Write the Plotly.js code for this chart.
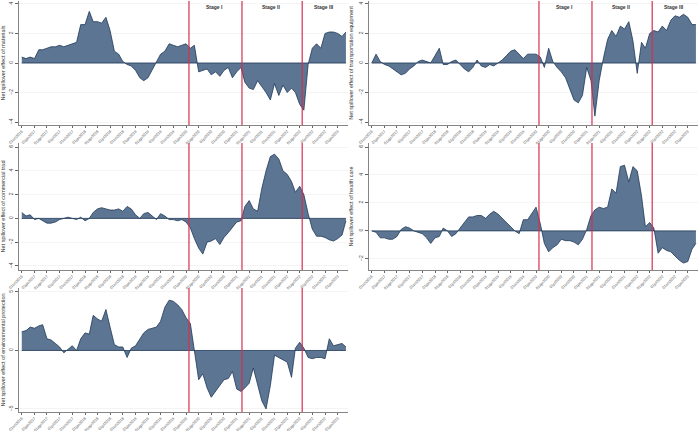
<!DOCTYPE html>
<html><head><meta charset="utf-8">
<script src="https://cdn.plot.ly/plotly-3.0.1.min.js"></script>
<style>html,body{margin:0;padding:0;background:#fff}#chart{width:700px;height:431px}</style>
</head><body><div id="chart"></div>
<script>
// Monthly observations, Oct 2016 .. Mar 2023
const startYear = 2016, startMonth = 9, nObs = 78;
const materials = [0.4,0.3,0.4,0.3,0.9,0.9,1.0,1.1,1.1,1.2,1.1,1.2,1.3,1.4,2.6,2.6,3.5,2.8,2.8,2.7,3.1,2.2,0.8,0.6,0.1,-0.1,-0.2,-0.5,-1.0,-1.2,-1.0,-0.5,0.1,0.6,0.8,1.3,1.2,1.1,1.2,1.3,1.0,1.2,-0.6,-0.5,-0.4,-0.8,-0.6,-0.9,-0.5,-0.3,-1.0,-0.6,-0.3,-1.3,-1.7,-1.8,-1.2,-1.6,-2.0,-2.5,-1.4,-2.2,-1.5,-2.0,-1.7,-2.0,-2.8,-3.2,-0.1,1.0,1.3,1.0,2.0,2.1,2.1,2.0,1.8,2.1];
const transport = [0.0,0.6,0.1,-0.1,-0.2,-0.4,-0.6,-0.8,-0.7,-0.4,-0.2,0.1,0.2,0.1,0.0,0.5,1.0,-0.1,-0.1,0.1,0.2,-0.1,-0.4,-0.6,-0.3,0.2,-0.2,-0.3,-0.1,-0.2,0.0,0.2,0.5,0.8,0.9,0.6,0.3,0.6,0.6,0.6,0.4,-0.3,1.0,0.1,-0.3,-0.6,-1.0,-1.7,-2.5,-2.7,-2.2,-0.3,-1.2,-3.6,-1.2,0.3,1.6,2.2,1.8,2.5,2.3,2.8,1.5,-0.7,1.4,1.0,2.0,2.2,2.1,2.5,2.2,2.9,3.2,3.1,3.3,3.1,2.6,2.6];
const commercial = [0.5,0.2,0.3,-0.1,0.0,-0.2,-0.4,-0.4,-0.3,-0.1,0.0,0.1,0.0,-0.1,0.1,-0.2,0.0,0.5,0.8,0.9,0.8,0.7,0.7,0.8,0.6,1.0,0.8,0.3,0.0,0.4,0.5,0.2,-0.1,0.4,0.2,-0.1,-0.1,-0.2,-0.1,-0.3,-0.8,-1.7,-2.5,-3.0,-2.0,-1.9,-1.7,-2.2,-1.6,-1.2,-0.8,-0.3,-0.2,1.0,1.5,0.8,0.6,2.5,4.0,5.2,5.4,5.0,4.0,3.7,3.1,2.2,2.7,2.0,0.4,-0.9,-1.5,-1.5,-1.6,-1.8,-1.9,-1.7,-1.4,-0.2];
const health = [0.0,-0.1,-0.5,-0.5,-0.6,-0.6,-0.4,0.1,0.3,0.2,0.0,-0.1,-0.2,-0.5,-0.9,-0.5,-0.4,0.2,0.0,-0.4,-0.2,0.2,0.6,1.0,1.0,1.1,1.1,0.9,1.2,1.4,1.2,0.9,0.6,0.3,0.0,-0.2,0.8,0.8,1.2,1.7,0.5,-0.9,-1.5,-1.2,-1.0,-0.6,-0.7,-0.7,-0.8,-1.0,-0.6,0.1,1.1,1.5,1.7,1.6,1.7,3.0,2.7,4.6,4.7,3.5,4.6,4.3,2.5,0.3,0.6,0.2,-1.6,-1.2,-1.4,-1.5,-1.8,-2.1,-2.3,-2.2,-1.3,-0.9];
const environ = [1.6,1.7,2.0,1.9,2.1,2.2,1.0,0.9,0.6,0.3,-0.2,0.1,0.4,0.0,1.0,1.5,1.4,3.0,2.7,2.5,3.5,2.0,0.5,0.3,0.3,-0.6,0.2,0.4,1.0,1.5,1.8,1.9,2.0,2.5,3.7,4.3,4.2,3.9,3.5,2.8,2.3,0.0,-2.5,-2.0,-3.2,-4.0,-3.5,-3.0,-2.5,-2.4,-1.8,-3.3,-3.5,-3.2,-2.8,-1.5,-3.0,-4.3,-5.0,-3.0,-0.4,-0.6,-0.8,-1.0,-2.3,0.2,0.7,0.2,-0.6,-0.7,-0.6,-0.6,-0.7,1.0,0.4,0.5,0.6,0.3];
const stageDates = ['2020-01-22','2021-02-08','2022-04-19'];
const stageLabels = ['Stage I','Stage II','Stage III'];
const stageLabelDates = ['2020-07-28','2021-09-05','2022-09-20'];
const tickDates = ['2016-10-01','2017-01-01','2017-04-01','2017-07-01','2017-10-01','2018-01-01','2018-04-01','2018-07-01','2018-10-01','2019-01-01','2019-04-01','2019-07-01','2019-10-01','2020-01-01','2020-04-01','2020-07-01','2020-10-01','2021-01-01','2021-04-01','2021-07-01','2021-10-01','2022-01-01','2022-04-01','2022-07-01','2022-10-01','2023-01-01'];
const tickLabels = ['01oct2016','01jan2017','01apr2017','01jul2017','01oct2017','01jan2018','01apr2018','01jul2018','01oct2018','01jan2019','01apr2019','01jul2019','01oct2019','01jan2020','01apr2020','01jul2020','01oct2020','01jan2021','01apr2021','01jul2021','01oct2021','01jan2022','01apr2022','01jul2022','01oct2022','01jan2023'];
const titles = ['Net spillover effect of materials','Net spillover effect of transportation equipment','Net spillover effect of commercial trad','Net spillover effect of health care','Net spillover effect of environmental protection'];

const dates = [];
for (let i = 0; i < nObs; i++) {
  const d = new Date(Date.UTC(startYear, startMonth + i, 1));
  dates.push(d.toISOString().slice(0,10));
}

const FONT = 'Liberation Sans, Arial, sans-serif';
const fillC = 'rgb(92,117,147)', lineC = 'rgb(32,56,88)', redC = 'rgb(212,48,80)';
const series = [materials, transport, commercial, health, environ];
const xDom = [[19/700, 348/700],[369/700, 698/700],[19/700, 348/700],[369/700, 698/700],[19/700, 348/700]];
const yDom = [[(431-125)/431, (431-1)/431],[(431-125)/431, (431-1)/431],[(431-270)/431,(431-143)/431],[(431-270)/431,(431-143)/431],[(431-412)/431,(431-288)/431]];
const yRng = [[-4.2,4.2],[-4.2,4.2],[-4.34,6.34],[-2.8,6.29],[-5.26,5.34]];
const yTick = [2,2,2,2,5];
const xRange = ['2016-09-11','2023-03-16'];

const traces = [], layout = {width:700,height:431,margin:{l:0,r:0,t:0,b:0},paper_bgcolor:'#fff',plot_bgcolor:'#fff',showlegend:false,font:{family:FONT,color:'#333'},shapes:[],annotations:[]};
series.forEach((s, k) => {
  const n = k+1, xa = 'x'+(n===1?'':n), ya = 'y'+(n===1?'':n);
  traces.push({x:dates,y:s,type:'scatter',mode:'lines',fill:'tozeroy',fillcolor:fillC,line:{color:lineC,width:0.8},xaxis:xa,yaxis:ya,hoverinfo:'skip'});
  const xk = 'xaxis'+(n===1?'':n), yk = 'yaxis'+(n===1?'':n);
  layout[xk] = {domain:xDom[k],anchor:ya,type:'date',range:xRange,tickvals:tickDates,ticktext:tickLabels,tickangle:-45,tickfont:{size:3.8,color:'#555',family:FONT},ticks:'outside',ticklen:2,tickcolor:'#666',showline:true,linecolor:'#666',linewidth:0.8,showgrid:false,zeroline:false,automargin:false};
  layout[yk] = {domain:yDom[k],anchor:xa,range:yRng[k],dtick:yTick[k],tick0:0,tickangle:-90,tickfont:{size:5,color:'#444',family:FONT},ticks:'outside',ticklen:3,tickcolor:'#666',showline:true,linecolor:'#666',linewidth:0.8,showgrid:true,gridcolor:'rgb(236,236,236)',gridwidth:0.6,zeroline:false,automargin:false,title:{text:titles[k],font:{size:5.5,color:'#333',family:FONT},standoff:4}};
  layout.shapes.push({type:'line',xref:xa,yref:ya,x0:dates[0],x1:dates[nObs-1],y0:0,y1:0,line:{color:lineC,width:0.8},layer:'above'});
  stageDates.forEach(d => layout.shapes.push({type:'line',xref:xa,yref:ya+' domain',x0:d,x1:d,y0:0,y1:1,line:{color:redC,width:1.2},layer:'above'}));
  if (n <= 2) stageLabels.forEach((t,i) => layout.annotations.push({xref:xa,yref:ya+' domain',x:stageLabelDates[i],y:0.99,yanchor:'top',text:'<b>'+t+'</b>',showarrow:false,font:{size:5,color:'#333',family:FONT}}));
});
Plotly.newPlot('chart', traces, layout, {staticPlot:true, displayModeBar:false});
</script></body></html>
